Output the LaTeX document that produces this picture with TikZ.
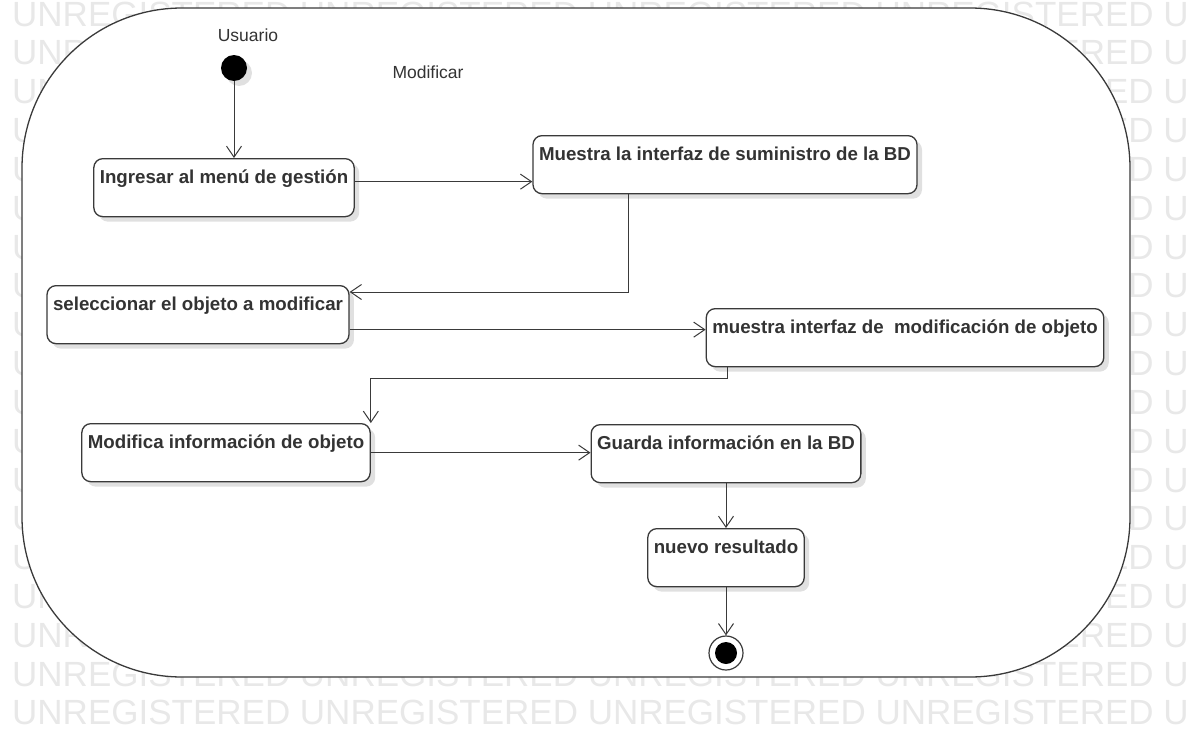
\documentclass[tikz,border=0pt]{standalone}
\usepackage{fontspec}
\setmainfont{Liberation Sans}
\usetikzlibrary{arrows.meta,shadows}
\definecolor{edge}{HTML}{3A3A3A}
\definecolor{wmark}{HTML}{E8E8E8}
\tikzset{
  activity/.style={draw=edge, line width=1.3pt, rounded corners=9pt, fill=white,
    anchor=north, text=black!80, font=\fontsize{18.7}{22}\selectfont\bfseries,
    inner xsep=6pt, inner ysep=8pt, text height=17pt, text depth=25pt,
    drop shadow={shadow xshift=5pt, shadow yshift=-5pt, opacity=0.12, fill=black}},
  flow/.style={draw=edge, line width=1pt, -{Straight Barb[length=11pt,width=15pt,line width=1pt]}},
  plain/.style={font=\fontsize{17.5}{20}\selectfont, text=black!80, inner sep=0pt},
}

\begin{document}
\begin{tikzpicture}[x=1pt,y=-1pt]
  \useasboundingbox (0,0) rectangle (1199,736);
  \clip (0,0) rectangle (1199,736);
  % watermark rows
  \foreach \row in {0,...,18} {
    \node[anchor=west, inner sep=0pt, text=wmark, font=\fontsize{35}{40}\selectfont]
      (wm-\row) at (12, 14+38.83*\row) {UNREGISTERED UNREGISTERED UNREGISTERED UNREGISTERED U};
  }
  % activity frame
  \draw[draw=edge, line width=1.3pt, fill=white, rounded corners=160pt] (22,8) rectangle (1130,677);
  \node[plain] (usuario) at (248,35) {Usuario};
  \node[plain] (modificar) at (428,72) {Modificar};
  \node[circle, fill=black, minimum size=26pt, inner sep=0pt,
    drop shadow={shadow xshift=5pt, shadow yshift=-5pt, opacity=0.12, fill=black}] (ini) at (234,68) {};

  % actions
  \node[activity] (ingresar) at (224,158) {Ingresar al menú de gestión};
  \node[activity] (muestraBD) at (725,135) {Muestra la interfaz de suministro de la BD};
  \node[activity] (seleccionar) at (198,285) {seleccionar el objeto a modificar};
  \node[activity] (muestraMod) at (905,308) {muestra interfaz de\ \ modificación de objeto};
  \node[activity] (modifica) at (226,423) {Modifica información de objeto};
  \node[activity] (guarda) at (726,424) {Guarda información en la BD};
  \node[activity] (nuevo) at (726,528) {nuevo resultado};
  \node[circle, draw=edge, line width=1.2pt, fill=white, minimum size=34pt, inner sep=0pt] (fin) at (726,653) {};
  \fill (fin.center) circle (11pt);

  % flows
  \coordinate (a1) at ([yshift=6pt]ingresar.east);
  \coordinate (b1) at ([xshift=-97pt]muestraBD.south);
  \coordinate (b2) at ([yshift=-7pt]seleccionar.north east);
  \coordinate (c1) at ([yshift=-15pt]seleccionar.east);
  \coordinate (d1) at ([xshift=-178pt]muestraMod.south);
  \draw[flow] (ini.south) -- (ini.south |- ingresar.north);
  \draw[flow] (a1) -- (a1 -| muestraBD.west);
  \draw[flow] (b1) |- (b2);
  \draw[flow] (c1) -- (c1 -| muestraMod.west);
  \draw[flow] (d1) -- ++(0,11) -| (modifica.north east);
  \draw[flow] (modifica.east) -- (modifica.east -| guarda.west);
  \draw[flow] (guarda.south) -- (nuevo.north);
  \draw[flow] (nuevo.south) -- (fin.north);
\end{tikzpicture}
\end{document}
